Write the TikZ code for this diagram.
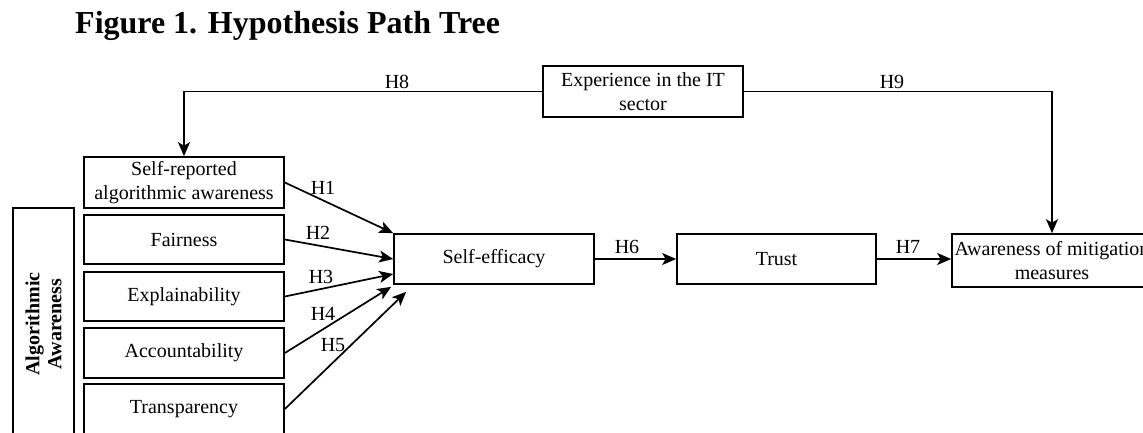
\documentclass[tikz,border=0pt]{standalone}
\usepackage{fontspec}
\setmainfont{Liberation Serif}
\usetikzlibrary{arrows.meta,calc}
\tikzset{
  box/.style={draw, line width=1.7pt, minimum width=200pt, inner sep=2pt, align=center, font=\fontsize{20}{23.5}\selectfont},
  arr/.style={line width=1.7pt, -{Stealth[length=14pt,width=12pt,inset=3.5pt]}},
  lbl/.style={font=\fontsize{20}{23.5}\selectfont, inner sep=0pt},
}
\begin{document}
\begin{tikzpicture}[x=1pt,y=-1pt]
\useasboundingbox (0,0) rectangle (1143,432);
\node[anchor=base west, inner sep=0pt, font=\fontsize{32}{36}\bfseries] (title) at (75,33) {Figure 1. Hypothesis Path Tree};

\node[box, minimum height=51pt] (exp) at (643,91.5) {Experience in the IT\\sector};
\node[box, minimum height=51pt] (sr) at (184,182.5) {Self-reported\\algorithmic awareness};
\node[box, minimum height=49pt] (fair) at (184,239.5) {Fairness};
\node[box, minimum height=49pt] (expl) at (184,296.5) {Explainability};
\node[box, minimum height=50pt] (acc) at (184,353) {Accountability};
\node[box, minimum height=50pt] (trans) at (184,409) {Transparency};
\node[draw, line width=1.7pt, minimum width=61pt, minimum height=232pt, inner sep=0pt] (aa) at (43.5,324) {};
\node[rotate=90, align=center, font=\fontsize{20}{22}\bfseries] (aatext) at (aa.center) {Algorithmic\\Awareness};

\node[box, minimum height=50pt] (se) at (494,259) {Self-efficacy};
\node[box, minimum width=199pt, minimum height=50pt] (trust) at (776.5,259) {Trust};
\node[box, minimum height=53pt] (amm) at (1052,260.5) {Awareness of mitigation\\measures};

\draw[arr] (exp.west) -| (sr.north);
\draw[arr] (exp.east) -| (amm.north);
\node[lbl] (h8) at (397,82) {H8};
\node[lbl] (h9) at (892,82) {H9};

\draw[arr] (sr.east) -- (se.north west);
\draw[arr] (fair.east) -- (se.west);
\draw[arr] (expl.east) -- ($(se.west)+(0,15)$);
\draw[arr] (acc.east) -- ($(se.south west)+(-2,2)$);
\draw[arr] (trans.east) -- ($(se.south west)+(13,7)$);
\node[lbl] (h1) at (323,188) {H1};
\node[lbl] (h2) at (318,233) {H2};
\node[lbl] (h3) at (321,277) {H3};
\node[lbl] (h4) at (323,314) {H4};
\node[lbl] (h5) at (333,345) {H5};

\draw[arr] (se.east) -- (trust.west);
\draw[arr] (trust.east) -- (trust.east -| amm.west);
\node[lbl] (h6) at (627,247) {H6};
\node[lbl] (h7) at (908,247) {H7};
\end{tikzpicture}
\end{document}
